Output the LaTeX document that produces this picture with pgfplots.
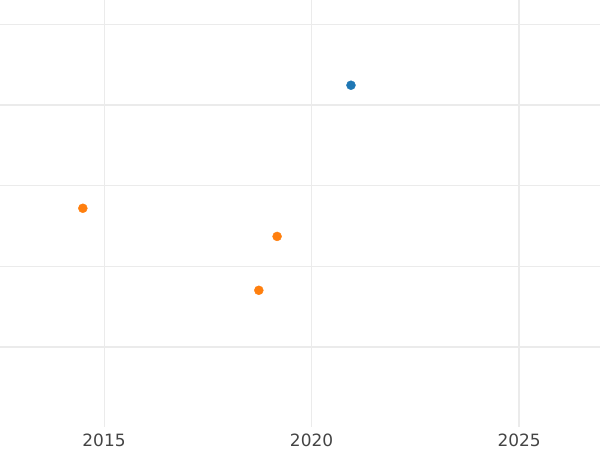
\documentclass[border=0pt]{standalone}
\usepackage{pgfplots}
\pgfplotsset{compat=1.18}
\usepackage{fontspec}
\setmainfont{DejaVu Sans}
\definecolor{gridc}{RGB}{235,235,235}
\definecolor{tickc}{RGB}{68,68,68}
\definecolor{c1}{RGB}{31,119,180}
\definecolor{c2}{RGB}{255,127,14}
\begin{document}
\begin{tikzpicture}
\path[use as bounding box] (0bp,-23bp) rectangle (600bp,427bp);
\begin{axis}[
  at={(0bp,0bp)}, anchor=south west,
  width=600bp, height=427bp, scale only axis,
  xmin=2012.494, xmax=2026.95, ymin=0, ymax=5.31,
  axis line style={draw=none},
  major tick style={draw=none},
  minor tick style={draw=none},
  xtick={2015,2020,2025},
  xticklabels={2015,2020,2025},
  xticklabel shift=3bp,
  ytick={1,2,3,4,5},
  yticklabels={},
  grid=major,
  major grid style={draw=gridc, line width=1bp},
  extra x ticks={2025},
  extra x tick labels={},
  extra x tick style={grid=major, major grid style={draw=gridc, line width=2bp}},
  extra y ticks={1,4},
  extra y tick labels={},
  extra y tick style={grid=major, major grid style={draw=gridc, line width=2bp}},
  tick label style={font=\fontsize{17}{20}\selectfont, text=tickc},
  /pgf/number format/assume math mode=true,
]
\addplot[only marks, mark=*, mark size=4.5bp, draw=c1, fill=c1] coordinates {(2020.95,4.25)};
\addplot[only marks, mark=*, mark size=4.5bp, draw=c2, fill=c2] coordinates {(2014.49,2.72) (2019.17,2.37) (2018.73,1.70)};
\end{axis}
\end{tikzpicture}
\end{document}
